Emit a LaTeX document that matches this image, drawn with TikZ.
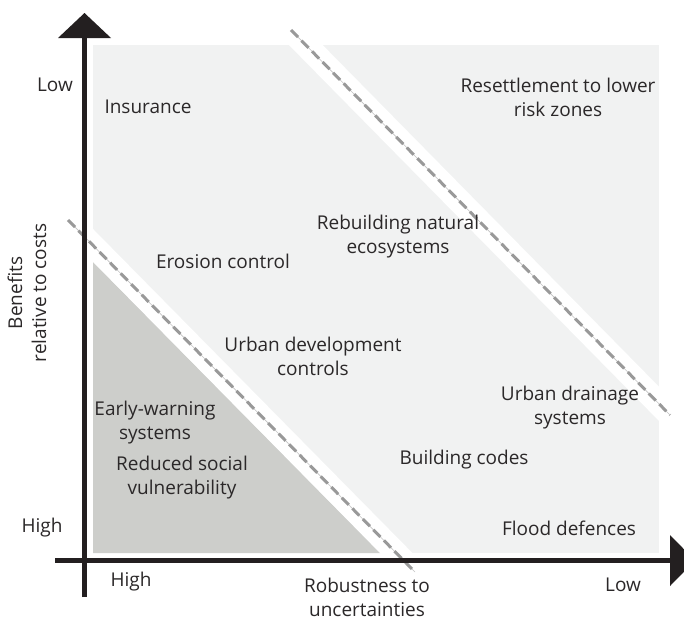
\documentclass[tikz,border=0pt]{standalone}
\usepackage{fontspec}
\usetikzlibrary{calc}
\setmainfont{Open Sans}
\definecolor{lightbg}{HTML}{F1F2F2}
\definecolor{darkbg}{HTML}{CDCECB}
\definecolor{txt}{HTML}{2B2829}
\definecolor{dashc}{HTML}{999999}
\definecolor{axisc}{HTML}{231F20}
\tikzset{
  lbl/.style={text=txt, font=\fontsize{19}{24}\selectfont, align=center, inner sep=0pt},
  band/.style={white, line width=23pt},
  dashthin/.style={dashc!60, line width=0.6pt},
  dashthick/.style={dashc, line width=3pt, dash pattern=on 10pt off 5pt},
  axisline/.style={axisc, line width=5.5pt},
}
\begin{document}
\begin{tikzpicture}[x=1pt,y=-1pt]
\clip (0,0) rectangle (684,621);
\fill[white] (0,0) rectangle (684,621);
% regions
\fill[lightbg] (93,45) rectangle (659,553);
\fill[darkbg] (93,262) -- (93,553) -- (380,553) -- cycle;
% coordinates of dashed lines
\coordinate (d1a) at (68,220);
\coordinate (d1b) at (415,572);
\coordinate (d2a) at (291,30);
\coordinate (d2b) at (670,415);
\begin{scope}
\clip (93,45) rectangle (659,553);
\draw[band] ($(d1a)!-0.5!(d1b)$) -- ($(d1a)!1.5!(d1b)$);
\draw[band, line width=24pt] ($(d2a)!-0.5!(d2b)$) -- ($(d2a)!1.5!(d2b)$);
\end{scope}
\draw[dashthin] (d1a) -- (d1b);
\draw[dashthick] (d1a) -- (d1b);
\draw[dashthin] (d2a) -- (d2b);
\draw[dashthick] (d2a) -- (d2b);
% axes
\coordinate (yb) at (84.5,597);
\coordinate (yt) at (84.5,38);
\coordinate (xl) at (55,560.5);
\coordinate (xr) at (670,560.5);
\draw[axisline] (yb) -- (yt);
\draw[axisline] (xl) -- (xr);
\fill[axisc] (58,38) -- (111,38) -- (84.5,13) -- cycle;
\fill[axisc] (670,535) -- (670,586) -- (695,560.5) -- cycle;
% axis labels
\node[lbl] (ylow) at (55,85) {Low};
\node[lbl] (yhigh) at (42,528) {High};
\node[lbl] (xhigh) at (131,582) {High};
\node[lbl] (xlow) at (623,585) {Low};
\node[lbl] (xtitle) at (367,597) {Robustness to\\uncertainties};
\node[lbl, rotate=90] (ytitle) at (27,293) {Benefits\\relative to costs};
% measures
\node[lbl] (ins) at (148,107) {Insurance};
\node[lbl] (res) at (558,97) {Resettlement to lower\\risk zones};
\node[lbl] (reb) at (398,237) {Rebuilding natural\\ecosystems};
\node[lbl] (ero) at (223,261) {Erosion control};
\node[lbl] (udc) at (313,356) {Urban development\\controls};
\node[lbl] (uds) at (570,408) {Urban drainage\\systems};
\node[lbl] (ews) at (155,423) {Early-warning\\systems};
\node[lbl] (bc) at (464,460) {Building codes};
\node[lbl] (rsv) at (182,478) {Reduced social\\vulnerability};
\node[lbl] (fd) at (569,528) {Flood defences};
\end{tikzpicture}
\end{document}
